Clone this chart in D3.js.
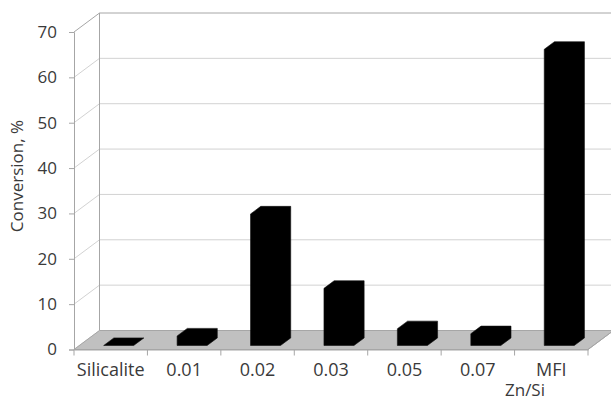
<!DOCTYPE html>
<html>
<head>
<meta charset="utf-8">
<script src="https://cdn.jsdelivr.net/npm/d3@7"></script>
<style>
  html, body { margin: 0; padding: 0; background: #fff; }
  svg { display: block; }
  text { font-family: "Open Sans", "Noto Sans", sans-serif; fill: #3a3a3a; }
</style>
</head>
<body>
<svg id="chart" width="611" height="402"></svg>
<script>
// Zn/Si ratio of the catalyst samples and their conversion (%)
const categories = ["Silicalite", "0.01", "0.02", "0.03", "0.05", "0.07", "MFI"];
const conversion = [0, 2.1, 29, 12.6, 3.7, 2.6, 65.3];
const yTicks = [0, 10, 20, 30, 40, 50, 60, 70];
const xTitle = "Zn/Si";
const yTitle = "Conversion, %";

const W = 611, H = 402;
const svg = d3.select("#chart");

// Front plane of the 3D box
const x = d3.scaleBand().domain(categories).range([74, 588]).padding(0);
const y = d3.scaleLinear().domain([0, 70]).range([349.5, 32]);

// Oblique depth vector (full depth of the box)
const DX = 25.5, DY = -19;
const proj = (px, py, d) => [px + d * DX, py + d * DY];

const gridColor = "#d2d2d2";
const edgeColor = "#a6a6a6";

// Back wall gridlines
const back = svg.append("g");
back.selectAll("line.grid")
  .data(yTicks)
  .join("line")
  .attr("x1", x.range()[0] + DX)
  .attr("x2", x.range()[1] + DX)
  .attr("y1", d => y(d) + DY)
  .attr("y2", d => y(d) + DY)
  .attr("stroke", d => d === 70 ? edgeColor : gridColor)
  .attr("stroke-width", 1);

// Left side wall: diagonal gridlines
back.selectAll("line.side")
  .data(yTicks)
  .join("line")
  .attr("x1", x.range()[0])
  .attr("y1", d => y(d))
  .attr("x2", x.range()[0] + DX)
  .attr("y2", d => y(d) + DY)
  .attr("stroke", d => d === 70 ? edgeColor : gridColor);

// Back wall left edge
back.append("line")
  .attr("x1", x.range()[0] + DX).attr("x2", x.range()[0] + DX)
  .attr("y1", y(70) + DY).attr("y2", y(0) + DY)
  .attr("stroke", edgeColor);

// Floor
const [fx0, fx1] = x.range();
const floorPts = [
  [fx0, y(0)], [fx1, y(0)],
  proj(fx1, y(0), 1), proj(fx0, y(0), 1)
];
svg.append("polygon")
  .attr("points", floorPts.map(p => p.join(",")).join(" "))
  .attr("fill", "#c0c0c0")
  .attr("stroke", edgeColor)
  .attr("stroke-width", 1);

// Bars: solid black prisms, drawn as their outline silhouette
const barW = 30;
const d0 = 0.21, d1 = 0.61;
const bars = svg.append("g");
bars.selectAll("path.bar")
  .data(categories.map((c, i) => ({ c, v: conversion[i] })))
  .join("path")
  .attr("fill", "#000")
  .attr("stroke", "#111")
  .attr("stroke-width", 0.6)
  .attr("stroke-linejoin", "round")
  .attr("d", d => {
    const cx = x(d.c) + x.bandwidth() / 2 + 2.6;
    const l = cx - barW / 2, r = cx + barW / 2;
    const yb = y(0), yt = y(d.v);
    const p = [
      proj(l, yb, d0), proj(l, yt, d0), proj(l, yt, d1),
      proj(r, yt, d1), proj(r, yb, d1), proj(r, yb, d0)
    ];
    return "M" + p.map(q => q.join(",")).join("L") + "Z";
  });

// Floor right edge (front-to-back)
svg.append("line")
  .attr("x1", fx1).attr("y1", y(0))
  .attr("x2", fx1 + DX).attr("y2", y(0) + DY)
  .attr("stroke", edgeColor);

// Y axis on the front plane
const yAxis = svg.append("g")
  .attr("transform", `translate(${fx0},0)`)
  .call(d3.axisLeft(y).tickValues(yTicks).tickSize(5).tickPadding(12));
yAxis.select(".domain").attr("stroke", edgeColor);
yAxis.selectAll(".tick line").attr("stroke", edgeColor);
yAxis.selectAll(".tick text")
  .attr("fill", "#3a3a3a")
  .style("font-size", "17px")
  .style("font-family", "'Open Sans', sans-serif");

// X axis: labels under each category, ticks at the category boundaries
const xAxis = svg.append("g")
  .attr("transform", `translate(0,${y(0)})`)
  .call(d3.axisBottom(x).tickSize(0).tickPadding(0));
xAxis.select(".domain").attr("stroke", edgeColor);
xAxis.selectAll(".tick text")
  .attr("y", 26.5)
  .attr("dy", null)
  .attr("fill", "#3a3a3a")
  .style("font-size", "18px")
  .style("font-family", "'Open Sans', sans-serif");

const bounds = categories.map(c => x(c)).concat([fx1]);
xAxis.selectAll("line.bound")
  .data(bounds)
  .join("line")
  .attr("class", "bound")
  .attr("x1", d => d).attr("x2", d => d)
  .attr("y1", 0).attr("y2", 6)
  .attr("stroke", edgeColor);

// Axis titles
svg.append("text")
  .attr("x", 525)
  .attr("y", 396)
  .attr("text-anchor", "middle")
  .style("font-size", "17px")
  .text(xTitle);

svg.append("text")
  .attr("transform", "translate(23,176) rotate(-90)")
  .attr("text-anchor", "middle")
  .style("font-size", "17px")
  .text(yTitle);
</script>
</body>
</html>
